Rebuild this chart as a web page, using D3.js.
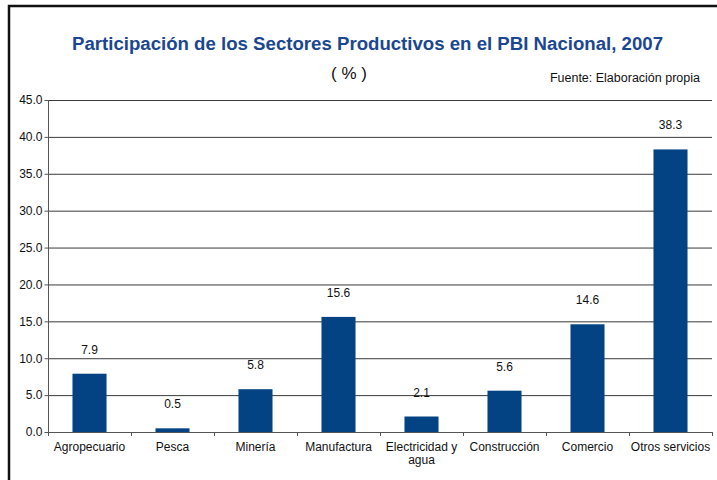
<!DOCTYPE html>
<html>
<head>
<meta charset="utf-8">
<script src="https://cdn.jsdelivr.net/npm/d3@7"></script>
<style>
  body { margin: 0; background: #fff; }
  text { font-family: "Liberation Sans", Arial, sans-serif; }
</style>
</head>
<body>
<div id="chart"></div>
<script>
var sectores = ["Agropecuario", "Pesca", "Minería", "Manufactura", "Electricidad y agua", "Construcción", "Comercio", "Otros servicios"]
var participacion = [7.9, 0.5, 5.8, 15.6, 2.1, 5.6, 14.6, 38.3]
var yTicks = [0, 5, 10, 15, 20, 25, 30, 35, 40, 45]

var W = 717, H = 480
var mLeft = 48, mRight = 712, mTop = 100, mBottom = 432

var svg = d3.select("#chart").append("svg")
    .attr("width", W)
    .attr("height", H)

// marco
svg.append("rect")
    .attr("x", 9).attr("y", 6)
    .attr("width", W + 10).attr("height", H + 10)
    .attr("fill", "none")
    .attr("stroke", "#111")
    .attr("stroke-width", 2.5)

svg.append("text")
    .attr("x", 72).attr("y", 50)
    .attr("font-size", 18)
    .attr("font-weight", "bold")
    .attr("fill", "#1b4791")
    .attr("textLength", 591)
    .attr("lengthAdjust", "spacingAndGlyphs")
    .text("Participación de los Sectores Productivos en el PBI Nacional, 2007")

svg.append("text")
    .attr("x", 349).attr("y", 79)
    .attr("text-anchor", "middle")
    .attr("font-size", 17)
    .attr("fill", "#111")
    .text("( % )")

svg.append("text")
    .attr("x", 700).attr("y", 82)
    .attr("text-anchor", "end")
    .attr("font-size", 12.5)
    .attr("fill", "#111")
    .text("Fuente: Elaboración propia")

var x = d3.scaleBand().domain(sectores).range([mLeft, mRight]).paddingInner(0.59).paddingOuter(0.295)
var y = d3.scaleLinear().domain([0, 45]).range([mBottom, mTop])

// rejilla
svg.append("g").selectAll("line")
    .data(yTicks.filter(function(d) { return d > 0 }))
    .enter().append("line")
    .attr("x1", mLeft).attr("x2", mRight)
    .attr("y1", function(d) { return y(d) + 0.5 })
    .attr("y2", function(d) { return y(d) + 0.5 })
    .attr("stroke", "#3a3a3a")
    .attr("stroke-width", 1)

var yAxis = svg.append("g")
    .attr("transform", "translate(" + (mLeft + 0.5) + ",0)")
    .call(d3.axisLeft(y).tickValues(yTicks).tickSize(4).tickPadding(2).tickFormat(d3.format(".1f")))
yAxis.select(".domain").attr("stroke", "#555").attr("d", "M0," + mTop + "V" + mBottom)
yAxis.selectAll(".tick line").attr("stroke", "#555")
yAxis.selectAll("text").attr("font-size", 12).attr("fill", "#111")

// barras
svg.append("g").selectAll("rect")
    .data(participacion)
    .enter().append("rect")
    .attr("x", function(d, i) { return x(sectores[i]) })
    .attr("y", function(d) { return y(d) })
    .attr("width", x.bandwidth())
    .attr("height", function(d) { return y(0) - y(d) })
    .attr("fill", "#034383")

svg.append("g").selectAll("text")
    .data(participacion)
    .enter().append("text")
    .attr("x", function(d, i) { return x(sectores[i]) + x.bandwidth() / 2 })
    .attr("y", function(d) { return y(d) - 20 })
    .attr("text-anchor", "middle")
    .attr("font-size", 12)
    .attr("fill", "#111")
    .text(function(d) { return d.toFixed(1) })

// eje x
var step = x.step()
var xAxis = svg.append("g")
xAxis.append("line")
    .attr("x1", mLeft).attr("x2", mRight)
    .attr("y1", mBottom + 0.5).attr("y2", mBottom + 0.5)
    .attr("stroke", "#555")
xAxis.selectAll("line.tk")
    .data(d3.range(sectores.length + 1))
    .enter().append("line")
    .attr("class", "tk")
    .attr("x1", function(i) { return mLeft + i * step + 0.5 })
    .attr("x2", function(i) { return mLeft + i * step + 0.5 })
    .attr("y1", mBottom).attr("y2", mBottom + 4)
    .attr("stroke", "#555")

var cat = xAxis.selectAll("text")
    .data(sectores)
    .enter().append("text")
    .attr("x", function(d) { return x(d) + x.bandwidth() / 2 })
    .attr("y", 451)
    .attr("text-anchor", "middle")
    .attr("font-size", 12)
    .attr("fill", "#111")
cat.each(function(d) {
    var lines = d === "Electricidad y agua" ? ["Electricidad y", "agua"] : [d]
    var t = d3.select(this)
    lines.forEach(function(l, k) {
        t.append("tspan").attr("x", t.attr("x")).attr("dy", k ? 13 : 0).text(l)
    })
})
</script>
</body>
</html>
